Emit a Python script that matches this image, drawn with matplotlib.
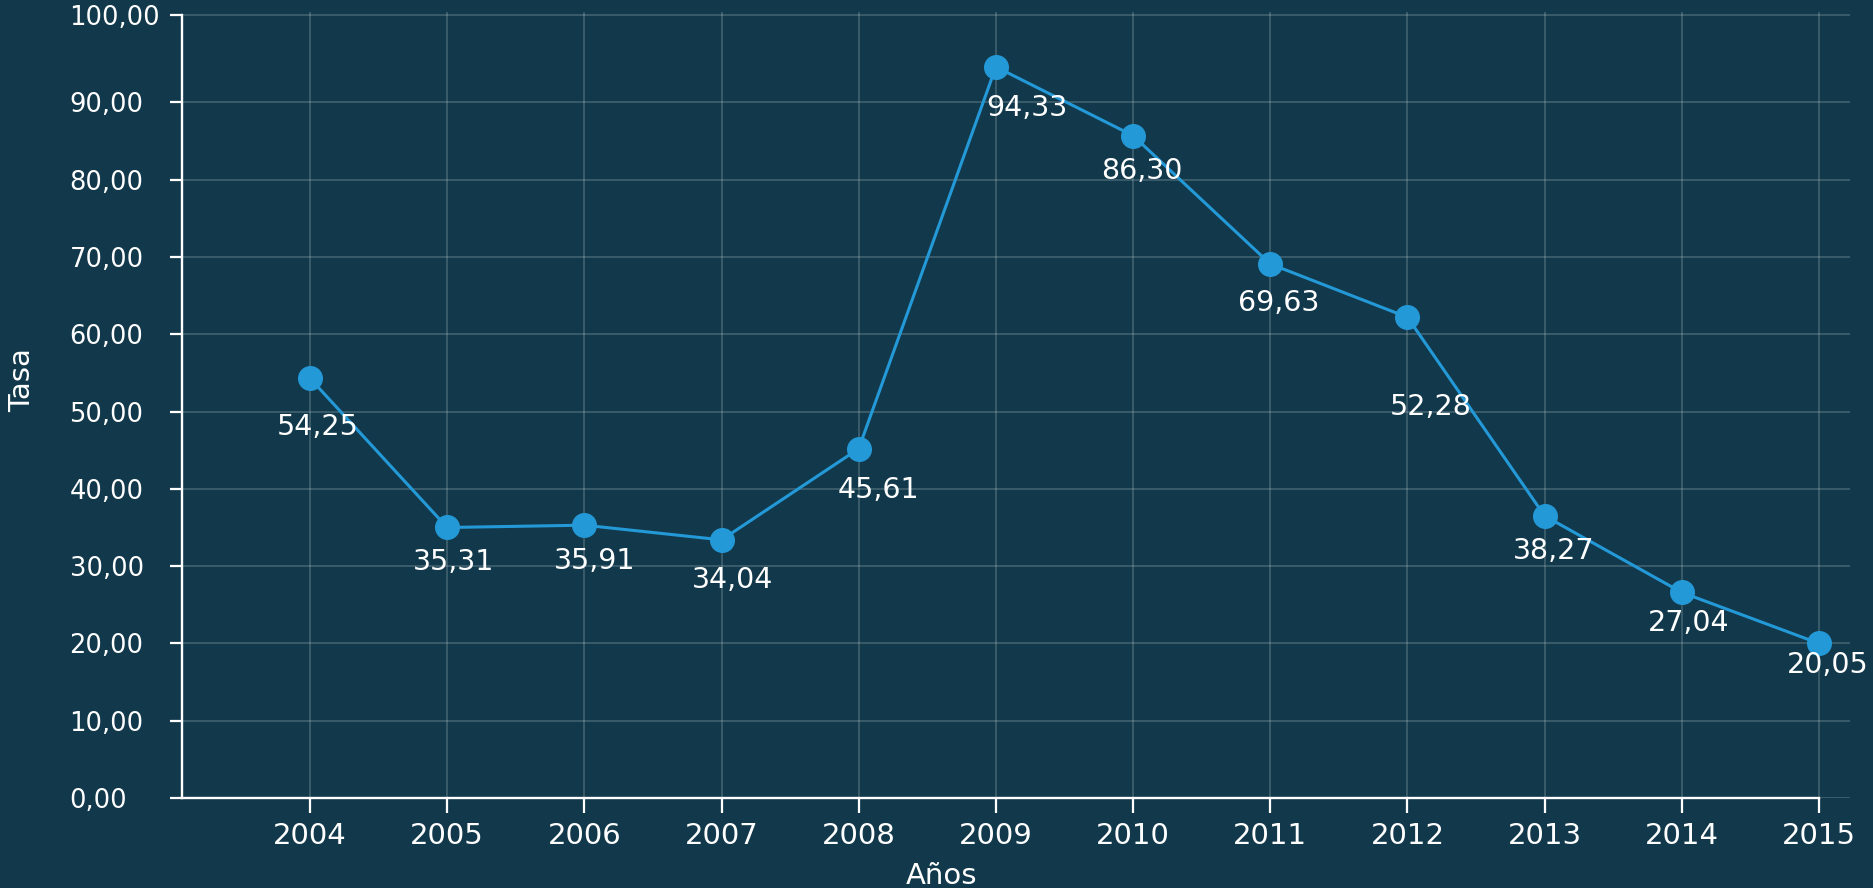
import matplotlib.pyplot as plt

anios = [2004, 2005, 2006, 2007, 2008, 2009, 2010, 2011, 2012, 2013, 2014, 2015]
tasa = [54.3, 35.0, 35.3, 33.4, 45.2, 94.6, 85.7, 69.1, 62.2, 36.5, 26.6, 20.0]
etiquetas = ['54,25', '35,31', '35,91', '34,04', '45,61', '94,33',
             '86,30', '69,63', '52,28', '38,27', '27,04', '20,05']
# the top tick sits a bit above 100 in the original chart
yticks = [0, 10, 20, 30, 40, 50, 60, 70, 80, 90, 101.3]
ytick_labels = ['0,00', '10,00', '20,00', '30,00', '40,00', '50,00',
                '60,00', '70,00', '80,00', '90,00', '100,00']

# label offsets in pixels (dx, dy) relative to each point
offs = [(8, -49), (6, -35), (10, -36), (11, -40), (20, -41), (31, -41),
        (9, -35), (8, -39), (23, -90), (9, -35), (7, -31), (9, -22)]

bg = '#12394b'
azul = '#2499d8'

fig = plt.figure(1, figsize = (18.74, 8.88), dpi = 100, facecolor = bg)
ax = plt.axes([182/1874, 90/888, 1668/1874, 786/888], facecolor = bg)

ax.plot(anios, tasa, 'o-', color = azul, linewidth = 2.2, markersize = 17, clip_on = False, zorder = 3)
for x, y, lab, (dx, dy) in zip(anios, tasa, etiquetas, offs):
    ax.annotate(lab, (x, y), xytext = (dx, dy), textcoords = 'offset pixels',
                ha = 'center', va = 'center', color = 'white', fontsize = 20.5, zorder = 4)

ax.set_xlim([2003.067, 2015.226])
ax.set_ylim([0, 101.7])
ax.set_xticks(anios)
ax.set_xticklabels([str(a) for a in anios], size = 21, color = 'white')
ax.set_yticks(yticks)
ax.set_yticklabels(ytick_labels, size = 18.5, color = 'white', ha = 'left')

for s in ['top', 'right']:
    ax.spines[s].set_visible(False)
for s in ['left', 'bottom']:
    ax.spines[s].set_color('white')
    ax.spines[s].set_linewidth(1.7)
ax.spines['left'].set_bounds(0, yticks[-1])
ax.spines['bottom'].set_bounds(2003.067, 2015)

ax.tick_params(axis = 'y', length = 9, width = 1.6, color = 'white', pad = 72)
ax.tick_params(axis = 'x', length = 11, width = 1.6, color = 'white', pad = 6)
ax.grid(color = 'white', alpha = 0.22, linewidth = 1.1)
ax.set_axisbelow(True)

fig.text(942/1874, 1 - 876/888, 'Años', ha = 'center', va = 'center', color = 'white', fontsize = 21)
fig.text(22/1874, 1 - 380/888, 'Tasa', ha = 'center', va = 'center', rotation = 90, color = 'white', fontsize = 21)

plt.savefig('out.png', dpi = 100, facecolor = bg)
